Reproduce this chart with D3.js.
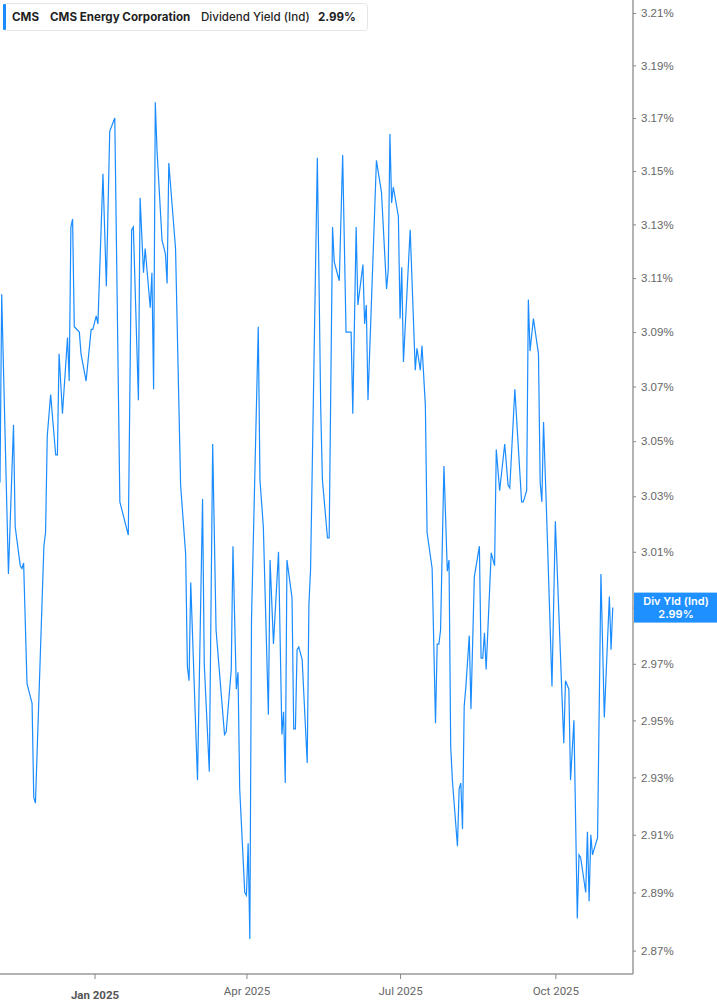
<!DOCTYPE html>
<html>
<head>
<meta charset="utf-8">
<script src="https://cdn.jsdelivr.net/npm/d3@7"></script>
<style>
  html, body { margin: 0; padding: 0; background: #fff; }
  svg { display: block; }
</style>
</head>
<body>
<svg id="chart" width="717" height="1005"></svg>
<script>
// ---- Data ----
const dates = [
"2024-11-06","2024-11-07","2024-11-11","2024-11-14","2024-11-15","2024-11-18","2024-11-19","2024-11-20","2024-11-22","2024-11-25",
"2024-11-26","2024-11-27","2024-12-02","2024-12-03","2024-12-04","2024-12-06","2024-12-09","2024-12-10","2024-12-11","2024-12-13",
"2024-12-16","2024-12-17","2024-12-18","2024-12-19","2024-12-20","2024-12-23","2024-12-24","2024-12-27","2024-12-30","2024-12-31",
"2025-01-02","2025-01-03","2025-01-06","2025-01-08","2025-01-10","2025-01-13","2025-01-16","2025-01-21","2025-01-23","2025-01-24",
"2025-01-27","2025-01-28","2025-01-30","2025-01-31","2025-02-03","2025-02-04","2025-02-05","2025-02-06","2025-02-07","2025-02-10",
"2025-02-12","2025-02-13","2025-02-14","2025-02-18","2025-02-21","2025-02-24","2025-02-25","2025-02-26","2025-02-27","2025-03-03",
"2025-03-06","2025-03-07","2025-03-10","2025-03-12","2025-03-14","2025-03-19","2025-03-20","2025-03-23","2025-03-24","2025-03-26",
"2025-03-27","2025-03-28","2025-03-31","2025-04-01","2025-04-02","2025-04-03","2025-04-04","2025-04-08","2025-04-09","2025-04-11",
"2025-04-14","2025-04-15","2025-04-17","2025-04-20","2025-04-22","2025-04-23","2025-04-24","2025-04-25","2025-04-28","2025-04-29",
"2025-04-30","2025-05-01","2025-05-02","2025-05-04","2025-05-07","2025-05-08","2025-05-09","2025-05-13","2025-05-15","2025-05-16",
"2025-05-19","2025-05-20","2025-05-22","2025-05-23","2025-05-26","2025-05-28","2025-05-30","2025-06-02","2025-06-03","2025-06-05",
"2025-06-06","2025-06-09","2025-06-10","2025-06-11","2025-06-12","2025-06-17","2025-06-20","2025-06-23","2025-06-24","2025-06-25",
"2025-06-26","2025-06-27","2025-06-30","2025-07-01","2025-07-02","2025-07-03","2025-07-07","2025-07-10","2025-07-11","2025-07-13",
"2025-07-14","2025-07-16","2025-07-17","2025-07-20","2025-07-22","2025-07-23","2025-07-24","2025-07-25","2025-07-27","2025-07-29",
"2025-07-30","2025-07-31","2025-08-01","2025-08-04","2025-08-05","2025-08-06","2025-08-07","2025-08-08","2025-08-09","2025-08-11",
"2025-08-12","2025-08-14","2025-08-17","2025-08-18","2025-08-19","2025-08-20","2025-08-21","2025-08-24","2025-08-26","2025-08-27",
"2025-08-29","2025-09-01","2025-09-03","2025-09-04","2025-09-07","2025-09-11","2025-09-12","2025-09-14","2025-09-15","2025-09-16",
"2025-09-18","2025-09-21","2025-09-22","2025-09-23","2025-09-24","2025-09-26","2025-09-29","2025-10-01","2025-10-06","2025-10-07",
"2025-10-09","2025-10-10","2025-10-12","2025-10-14","2025-10-15","2025-10-16","2025-10-19","2025-10-20","2025-10-21","2025-10-22",
"2025-10-23","2025-10-26","2025-10-28","2025-10-30","2025-11-02","2025-11-03","2025-11-04"
];
const yields = [
3.035,3.104,3.002,3.056,3.019,3.005,3.004,3.006,2.963,2.956,
2.923,2.921,3.012,3.017,3.052,3.067,3.045,3.045,3.082,3.060,
3.088,3.072,3.129,3.132,3.092,3.090,3.082,3.072,3.091,3.091,
3.096,3.093,3.149,3.107,3.165,3.170,3.028,3.016,3.128,3.129,
3.065,3.140,3.112,3.121,3.099,3.112,3.069,3.176,3.158,3.124,
3.119,3.108,3.153,3.121,3.034,3.009,2.969,2.964,2.999,2.929,
3.029,2.970,2.932,3.049,2.982,2.945,2.946,2.968,3.012,2.961,
2.967,2.926,2.890,2.889,2.907,2.874,2.986,3.092,3.036,3.019,
2.952,3.007,2.977,3.010,2.945,2.953,2.928,3.007,2.9935,2.947,
2.947,2.975,2.976,2.9715,2.935,2.991,3.004,3.155,3.062,3.036,
3.015,3.015,3.129,3.116,3.109,3.156,3.090,3.090,3.060,3.129,
3.100,3.115,3.093,3.100,3.065,3.154,3.142,3.106,3.113,3.164,
3.138,3.144,3.133,3.095,3.114,3.079,3.128,3.076,3.084,3.076,
3.085,3.063,3.017,3.004,2.949,2.977,2.977,2.982,3.041,3.003,
3.007,2.941,2.929,2.906,2.926,2.928,2.912,2.955,2.962,2.980,
2.954,3.001,3.012,2.972,2.972,2.981,2.968,3.0096,3.005,3.047,
3.032,3.049,3.034,3.033,3.069,3.028,3.028,3.032,3.102,3.083,
3.095,3.082,3.035,3.028,3.057,3.020,2.962,3.021,2.942,2.964,
2.961,2.929,2.950,2.881,2.903,2.902,2.890,2.911,2.887,2.910,
2.903,2.909,3.002,2.951,2.994,2.975,2.990
];
const yTicks = [2.87,2.89,2.91,2.93,2.95,2.97,2.99,3.01,3.03,3.05,3.07,3.09,3.11,3.13,3.15,3.17,3.19,3.21];
const xTickDates = ["2025-01-01","2025-04-01","2025-07-01","2025-10-01"];
const xTickLabels = ["Jan 2025","Apr 2025","Jul 2025","Oct 2025"];
const xDomain = ["2024-11-06","2025-11-16"];
const yDomain = [2.862, 3.215];
const ticker = "CMS";
const company = "CMS Energy Corporation";
const metric = "Dividend Yield (Ind)";
const lastLabel = "Div Yld (Ind)";

// ---- Layout ----
const W = 717, H = 1005;
const plotRight = 633, plotBottom = 974, plotTop = 0;
const parse = d3.timeParse("%Y-%m-%d");
const data = dates.map((d, i) => ({ date: parse(d), value: yields[i] }));
const last = data[data.length - 1];

const x = d3.scaleTime().domain(xDomain.map(parse)).range([0, plotRight]);
const y = d3.scaleLog().domain(yDomain).range([plotBottom, plotTop]);

const svg = d3.select("#chart");

// line
const line = d3.line().x(d => x(d.date)).y(d => y(d.value));
svg.append("path")
  .datum(data)
  .attr("fill", "none")
  .attr("stroke", "#1a8cff")
  .attr("stroke-width", 1.2)
  .attr("d", line);

// right axis
const yAxis = d3.axisRight(y)
  .tickValues(yTicks)
  .tickSize(3)
  .tickPadding(5)
  .tickFormat(d => d.toFixed(2) + "%");
const ya = svg.append("g")
  .attr("transform", `translate(${plotRight},0)`)
  .call(yAxis);
ya.select(".domain").attr("stroke", "#9a9a9a").attr("stroke-width", 1.5).attr("d", `M0,0V${plotBottom}`);
ya.selectAll(".tick line").attr("stroke", "#888");
ya.selectAll(".tick text")
  .attr("fill", "#666")
  .style("font-family", "'Liberation Sans', Arial, sans-serif")
  .style("font-size", "11.5px");

// bottom axis
const xAxis = d3.axisBottom(x)
  .tickValues(xTickDates.map(parse))
  .tickSize(5)
  .tickPadding(8)
  .tickFormat((d, i) => xTickLabels[i]);
const xa = svg.append("g")
  .attr("transform", `translate(0,${plotBottom})`)
  .call(xAxis);
xa.select(".domain").attr("stroke", "#9a9a9a").attr("stroke-width", 1.5).attr("d", `M0,0H${plotRight}`);
xa.selectAll(".tick line").attr("stroke", "#888");
xa.selectAll(".tick text")
  .attr("fill", (d, i) => i === 0 ? "#555" : "#666")
  .style("font-family", "Roboto, 'Liberation Sans', sans-serif")
  .style("font-size", "11.5px")
  .style("font-weight", (d, i) => i === 0 ? "700" : "400")
  .attr("dy", (d, i) => i === 0 ? "1.05em" : "0.71em");

// last value marker (drawn over the tick label it replaces)
const ly = y(last.value);
const mk = svg.append("g");
mk.append("rect")
  .attr("x", plotRight + 1).attr("y", ly - 15)
  .attr("width", W - plotRight - 1).attr("height", 30)
  .attr("fill", "#1e90ff");
mk.append("text")
  .attr("x", (plotRight + W) / 2 + 1).attr("y", ly - 3)
  .attr("text-anchor", "middle")
  .attr("fill", "#fff")
  .style("font-family", "Inter, 'Liberation Sans', sans-serif")
  .style("font-size", "11px").style("font-weight", "600")
  .text(lastLabel);
mk.append("text")
  .attr("x", (plotRight + W) / 2 + 1).attr("y", ly + 10)
  .attr("text-anchor", "middle")
  .attr("fill", "#fff")
  .style("font-family", "Inter, 'Liberation Sans', sans-serif")
  .style("font-size", "11px").style("font-weight", "600")
  .text(last.value.toFixed(2) + "%");
// the axis label at the last value sits under the marker; keep it hidden there
ya.selectAll(".tick text").filter(d => Math.abs(y(d) - ly) < 15).attr("visibility", "hidden");

// header legend
const hg = svg.append("g");
hg.append("rect")
  .attr("x", 3.5).attr("y", 3.5).attr("width", 364).attr("height", 27)
  .attr("rx", 3).attr("fill", "#fff").attr("stroke", "#e6e6e6");
hg.append("rect")
  .attr("x", 3).attr("y", 4).attr("width", 3).attr("height", 26)
  .attr("rx", 1).attr("fill", "#1a8cff");
const hText = [
  { t: ticker, x: 12, w: 700 },
  { t: company, x: 50, w: 700 },
  { t: metric, x: 201, w: 500 },
  { t: last.value.toFixed(2) + "%", x: 318, w: 700 }
];
hg.selectAll("text.h").data(hText).enter().append("text")
  .attr("class", "h")
  .attr("x", d => d.x).attr("y", 21)
  .attr("fill", "#1f1f1f")
  .style("font-family", "Inter, 'Liberation Sans', sans-serif")
  .style("font-size", "11.6px")
  .style("font-weight", d => d.w)
  .text(d => d.t);
</script>
</body>
</html>
